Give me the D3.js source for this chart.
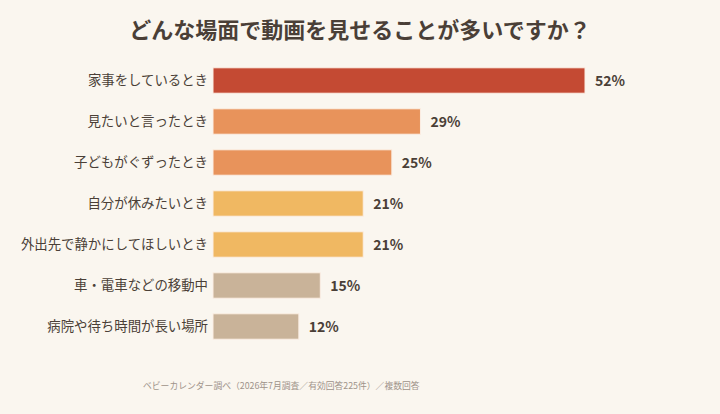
<!DOCTYPE html>
<html>
<head>
<meta charset="utf-8">
<script src="https://cdn.jsdelivr.net/npm/d3@7"></script>
<style>
  html, body { margin: 0; padding: 0; background: #faf6ef; }
  svg { display: block; font-family: "Noto Sans CJK JP", "Noto Sans", sans-serif; }
</style>
</head>
<body>
<svg id="chart"></svg>
<script>
// data
const categories = [
  '家事をしているとき',
  '見たいと言ったとき',
  '子どもがぐずったとき',
  '自分が休みたいとき',
  '外出先で静かにしてほしいとき',
  '車・電車などの移動中',
  '病院や待ち時間が長い場所'
];
const values = [52, 29, 25, 21, 21, 15, 12];
const groups = ['top', 'high', 'high', 'mid', 'mid', 'low', 'low'];

const title = 'どんな場面で動画を見せることが多いですか？';
const source = 'ベビーカレンダー調べ（2026年7月調査／有効回答225件）／複数回答';

const width = 720;
const height = 414;
const margin = { top: 60, right: 135, bottom: 68, left: 213 };

const colors = {
  top: '#c44a33',
  high: '#e8935b',
  mid: '#f0b862',
  low: '#c9b399',
  text: '#4a3f37',
  note: '#9e938a'
};

const svg = d3.select('#chart').attr('width', width).attr('height', height);

svg.append('rect').attr('width', width).attr('height', height).attr('fill', '#faf6ef');

const x = d3.scaleLinear().domain([0, 52]).range([margin.left, width - margin.right]);
const y = d3.scaleBand().domain(categories).range([margin.top, 347]).paddingInner(0.38).paddingOuter(0.19);

svg.append('text')
  .attr('x', width / 2).attr('y', 38)
  .attr('text-anchor', 'middle')
  .style('font-size', '22px').style('font-weight', 700)
  .style('fill', colors.text)
  .text(title);

const rows = svg.selectAll('g.row').data(categories).enter().append('g').attr('class', 'row');

rows.append('rect')
  .attr('x', x(0))
  .attr('y', d => y(d))
  .attr('width', (d, i) => x(values[i]) - x(0))
  .attr('height', y.bandwidth())
  .attr('fill', (d, i) => colors[groups[i]])
  .attr('stroke', '#fbeee4').attr('stroke-width', 1);

// category labels
const yAxis = d3.axisLeft(y).tickSize(0).tickPadding(5);
const ag = svg.append('g').attr('transform', `translate(${x(0)},0)`).call(yAxis);
ag.select('.domain').remove();
ag.selectAll('text')
  .style('font-size', '13.4px')
  .style('font-family', '"Noto Sans CJK JP", sans-serif')
  .style('fill', colors.text);

rows.append('text')
  .attr('x', (d, i) => x(values[i]) + 10)
  .attr('y', d => y(d) + y.bandwidth() / 2)
  .attr('dy', '0.36em')
  .style('font-size', '14px').style('font-weight', 700)
  .style('fill', colors.text)
  .text((d, i) => values[i] + '%');

svg.append('text')
  .attr('x', 143).attr('y', 389)
  .style('font-size', '8.8px')
  .style('fill', colors.note)
  .text(source);
</script>
</body>
</html>
